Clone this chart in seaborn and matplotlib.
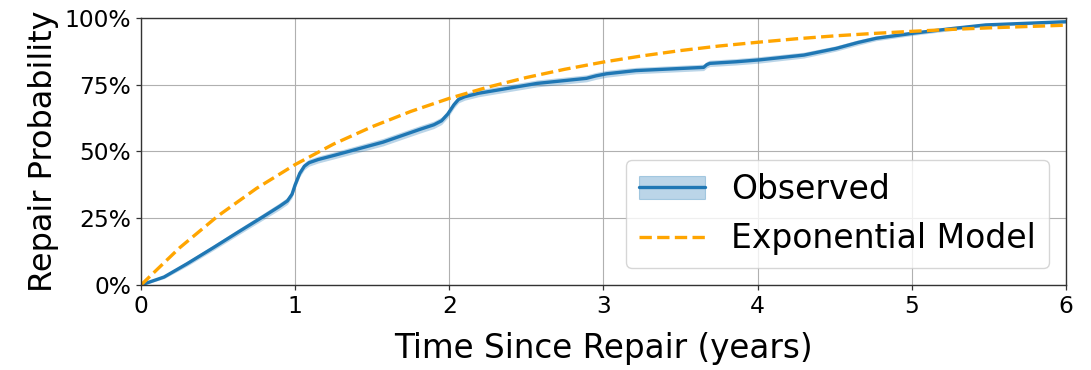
import numpy as np
import pandas as pd
import matplotlib
matplotlib.use("Agg")
import matplotlib.pyplot as plt
import seaborn as sns
from matplotlib.patches import Patch
from matplotlib.lines import Line2D
from matplotlib.ticker import PercentFormatter

# Observed cumulative repair probability (%)
obs_t = [0, 0.05, 0.15, 0.3, 0.47, 0.63, 0.79, 0.9, 0.95, 0.98, 1.0, 1.03, 1.06,
         1.09, 1.15, 1.25, 1.57, 1.81, 1.9, 1.95, 1.99, 2.03, 2.06, 2.1, 2.19,
         2.57, 2.89, 2.95, 3.02, 3.21, 3.65, 3.67, 3.69, 3.86, 4.01, 4.30, 4.51,
         4.65, 4.77, 5.01, 5.27, 5.48, 6.0]
obs_y = [0, 1, 3, 8, 14, 19.8, 25.5, 29.5, 31.5, 34, 37.5, 41.8, 44.5,
         45.8, 47, 48.5, 53.5, 58.3, 60, 61.5, 64, 67.5, 69.5, 70.5, 71.8,
         75.5, 77.4, 78.3, 79.1, 80.3, 81.5, 82.5, 83, 83.6, 84.3, 86.1, 88.6,
         90.8, 92.4, 94.3, 96.1, 97.4, 98.6]
obs_err = [0, 0.4, 0.6, 0.9, 1.0, 1.1, 1.2, 1.3, 1.3, 1.3, 1.3, 1.3, 1.3,
           1.3, 1.3, 1.3, 1.4, 1.4, 1.4, 1.4, 1.4, 1.3, 1.3, 1.3, 1.3,
           1.3, 1.3, 1.3, 1.3, 1.2, 1.2, 1.2, 1.2, 1.2, 1.2, 1.1, 1.0,
           1.0, 0.9, 0.8, 0.7, 0.6, 0.5]

# Exponential model curve (%)
model_t = [0, 0.25, 0.5, 0.75, 1.0, 1.25, 1.5, 1.75, 2.0, 2.25, 2.5, 2.75, 3.0,
           3.25, 3.5, 3.75, 4.0, 4.25, 4.5, 4.75, 5.0, 5.25, 5.5, 5.75, 6.0]
model_y = [0, 13.9, 25.9, 36.2, 45.1, 52.8, 59.3, 65.0, 69.9, 74.1, 77.7, 80.8,
           83.5, 85.8, 87.8, 89.5, 90.9, 92.2, 93.3, 94.2, 95.0, 95.7, 96.3, 96.8, 97.3]

xticks = [0, 1, 2, 3, 4, 5, 6]
yticks = [0, 25, 50, 75, 100]

sns.set_style("ticks")
plt.rcParams['font.family'] = ['DejaVu Sans']
plt.rcParams['text.color'] = 'black'

fig = plt.figure(figsize=(10.91, 3.70), dpi=100)
ax = fig.add_axes([0.1292, 0.2297, 0.8478, 0.7217])

blue = "#1f77b4"
orange = "#ffa500"
LW = 2.4

obs_df = pd.DataFrame({"t": obs_t, "y": obs_y, "err": obs_err})
obs_df["lo"] = obs_df["y"] - obs_df["err"]
obs_df["hi"] = obs_df["y"] + obs_df["err"]
mod_df = pd.DataFrame({"t": model_t, "y": model_y})

ax.fill_between(obs_df["t"], obs_df["lo"], obs_df["hi"], color=blue, alpha=0.3,
                linewidth=0)
sns.lineplot(data=obs_df, x="t", y="y", ax=ax, color=blue, linewidth=LW, sort=False)
sns.lineplot(data=mod_df, x="t", y="y", ax=ax, color=orange, linewidth=LW,
             linestyle="--")

ax.set_xlim(0, 6)
ax.set_ylim(0, 100)
ax.set_xticks(xticks)
ax.set_yticks(yticks)
ax.yaxis.set_major_formatter(PercentFormatter(100, decimals=0))
ax.grid(True, color="#b0b0b0", linewidth=0.8)
for s in ax.spines.values():
    s.set_visible(True)
    s.set_color("#333333")
    s.set_linewidth(1.0)
ax.tick_params(axis="both", labelsize=16.8, length=3.5, width=0.9, direction="out",
               color="#333333", labelcolor="black", bottom=True, left=True, pad=3.5)
ax.set_xlabel("Time Since Repair (years)", fontsize=23.5, color="black", labelpad=10)
ax.set_ylabel("Repair Probability", fontsize=23, color="black")

obs_handle = (Patch(facecolor=blue, alpha=0.3, edgecolor=blue, linewidth=0.8),
              Line2D([], [], color=blue, linewidth=LW))
mod_handle = Line2D([], [], color=orange, linewidth=LW, linestyle="--")
ax.legend([obs_handle, mod_handle], ["Observed", "Exponential Model"],
          loc="lower right", fontsize=23.8, frameon=True, framealpha=0.8,
          edgecolor="#cccccc", fancybox=True, labelcolor="black")

fig.savefig("out.png", dpi=100)
